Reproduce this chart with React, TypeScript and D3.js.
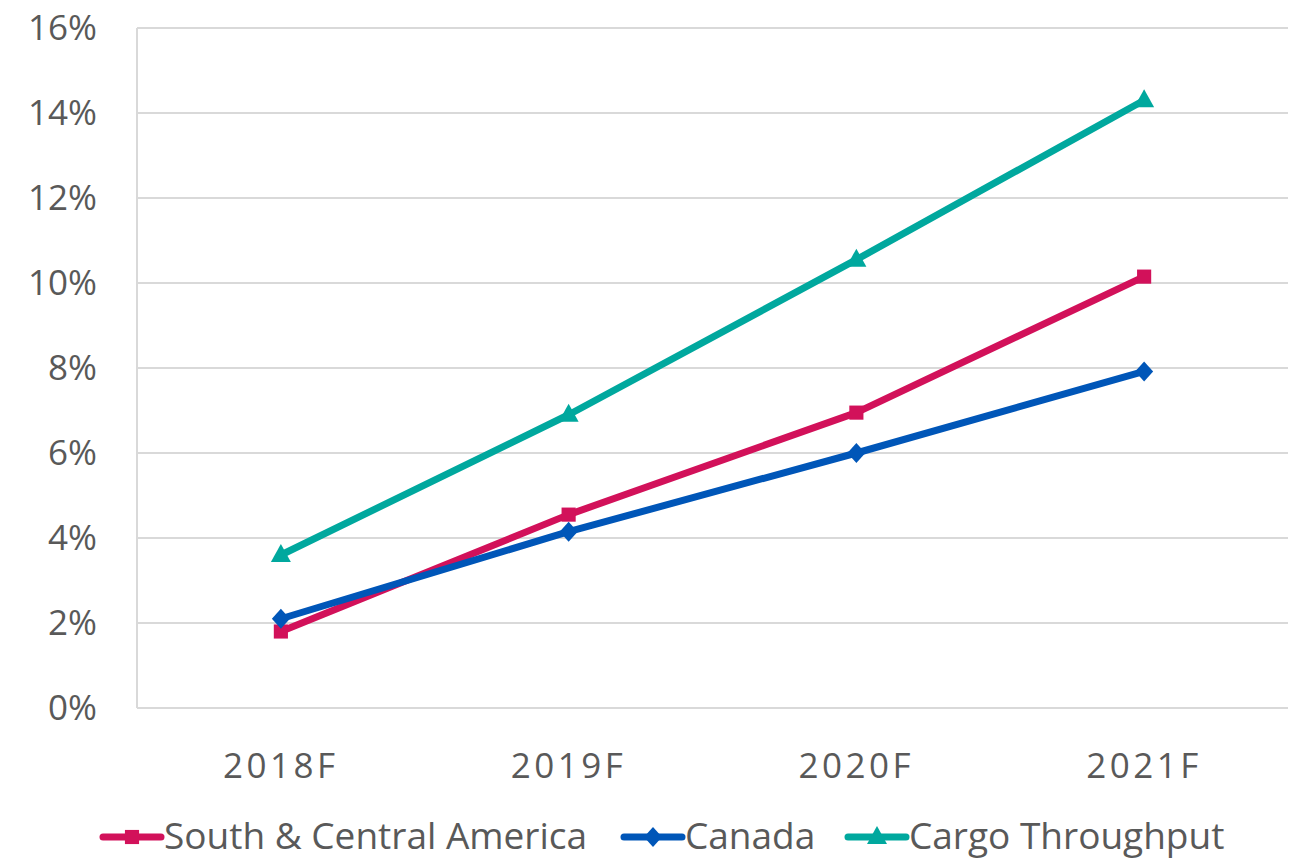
import React, { useEffect, useRef } from 'react';
import * as d3 from 'd3';

const categories = ['2018F', '2019F', '2020F', '2021F'];
const southCentral = [1.8, 4.55, 6.95, 10.15];
const canada = [2.1, 4.15, 6.0, 7.92];
const cargo = [3.6, 6.9, 10.55, 14.3];
const yTicks = [0, 2, 4, 6, 8, 10, 12, 14, 16];

const series = [
  { name: 'South & Central America', values: southCentral, color: '#D2115A', marker: 'square' },
  { name: 'Canada', values: canada, color: '#0056B8', marker: 'diamond' },
  { name: 'Cargo Throughput', values: cargo, color: '#00A89E', marker: 'triangle' },
];

const FONT = '"Open Sans", sans-serif';
const TEXT = '#595959';

function markerPath(kind: string) {
  if (kind === 'square') return d3.symbol(d3.symbolSquare, 200)();
  if (kind === 'diamond') return 'M0,-10L9,0L0,10L-9,0Z';
  return 'M0,-11L10,7L-10,7Z';
}

export default function App() {
  const svgRef = useRef<SVGSVGElement>(null);

  useEffect(() => {
    const svg = d3.select(svgRef.current);
    svg.selectAll('*').remove();

    const width = 1294;
    const height = 858;
    const margin = { top: 28, right: 6, bottom: 150, left: 137 };

    const x = d3.scaleBand().domain(categories).range([margin.left, width - margin.right]);
    const y = d3.scaleLinear().domain([0, 16]).range([height - margin.bottom, margin.top]);

    // grid
    svg.append('g')
      .selectAll('line')
      .data(yTicks)
      .join('line')
      .attr('x1', margin.left)
      .attr('x2', width - margin.right)
      .attr('y1', d => y(d))
      .attr('y2', d => y(d))
      .attr('stroke', '#d9d9d9')
      .attr('stroke-width', 2);

    svg.append('line')
      .attr('x1', margin.left).attr('x2', margin.left)
      .attr('y1', y(16)).attr('y2', y(0))
      .attr('stroke', '#d9d9d9').attr('stroke-width', 2);

    // y labels
    svg.append('g')
      .selectAll('text')
      .data(yTicks)
      .join('text')
      .attr('x', 97)
      .attr('y', d => y(d) + 12)
      .attr('text-anchor', 'end')
      .attr('font-family', FONT)
      .attr('font-size', 35)
      .attr('fill', TEXT)
      .text(d => `${d}%`);

    // x labels
    svg.append('g')
      .selectAll('text')
      .data(categories)
      .join('text')
      .attr('x', d => x(d)! + x.bandwidth() / 2)
      .attr('y', 778)
      .attr('text-anchor', 'middle')
      .attr('font-family', FONT)
      .attr('font-size', 35)
      .attr('letter-spacing', 3.5)
      .attr('fill', TEXT)
      .text(d => d);

    const cx = (c: string) => x(c)! + x.bandwidth() / 2;
    const line = d3.line<number>()
      .x((_, i) => cx(categories[i]))
      .y(d => y(d));

    series.forEach(s => {
      const g = svg.append('g');
      g.append('path')
        .datum(s.values)
        .attr('fill', 'none')
        .attr('stroke', s.color)
        .attr('stroke-width', 7)
        .attr('stroke-linejoin', 'round')
        .attr('d', line);
      g.selectAll('path.m')
        .data(s.values)
        .join('path')
        .attr('class', 'm')
        .attr('transform', (d, i) => `translate(${cx(categories[i])},${y(d)})`)
        .attr('d', markerPath(s.marker))
        .attr('fill', s.color);
    });

    // legend
    const legendX = [103, 624, 848];
    const legendY = 837;
    series.forEach((s, i) => {
      const g = svg.append('g').attr('transform', `translate(${legendX[i]},${legendY})`);
      g.append('line')
        .attr('x1', 0).attr('x2', 58)
        .attr('y1', 0).attr('y2', 0)
        .attr('stroke', s.color)
        .attr('stroke-width', 7)
        .attr('stroke-linecap', 'round');
      g.append('path')
        .attr('transform', 'translate(29,0)')
        .attr('d', markerPath(s.marker))
        .attr('fill', s.color);
      g.append('text')
        .attr('x', 61)
        .attr('y', 12)
        .attr('font-family', FONT)
        .attr('font-size', 37)
        .attr('fill', TEXT)
        .text(s.name);
    });
  }, []);

  return (
    <div style={{ position: 'absolute', left: 0, top: 0 }}>
      <svg ref={svgRef} width={1294} height={858} style={{ display: 'block', background: '#fff' }} />
    </div>
  );
}
